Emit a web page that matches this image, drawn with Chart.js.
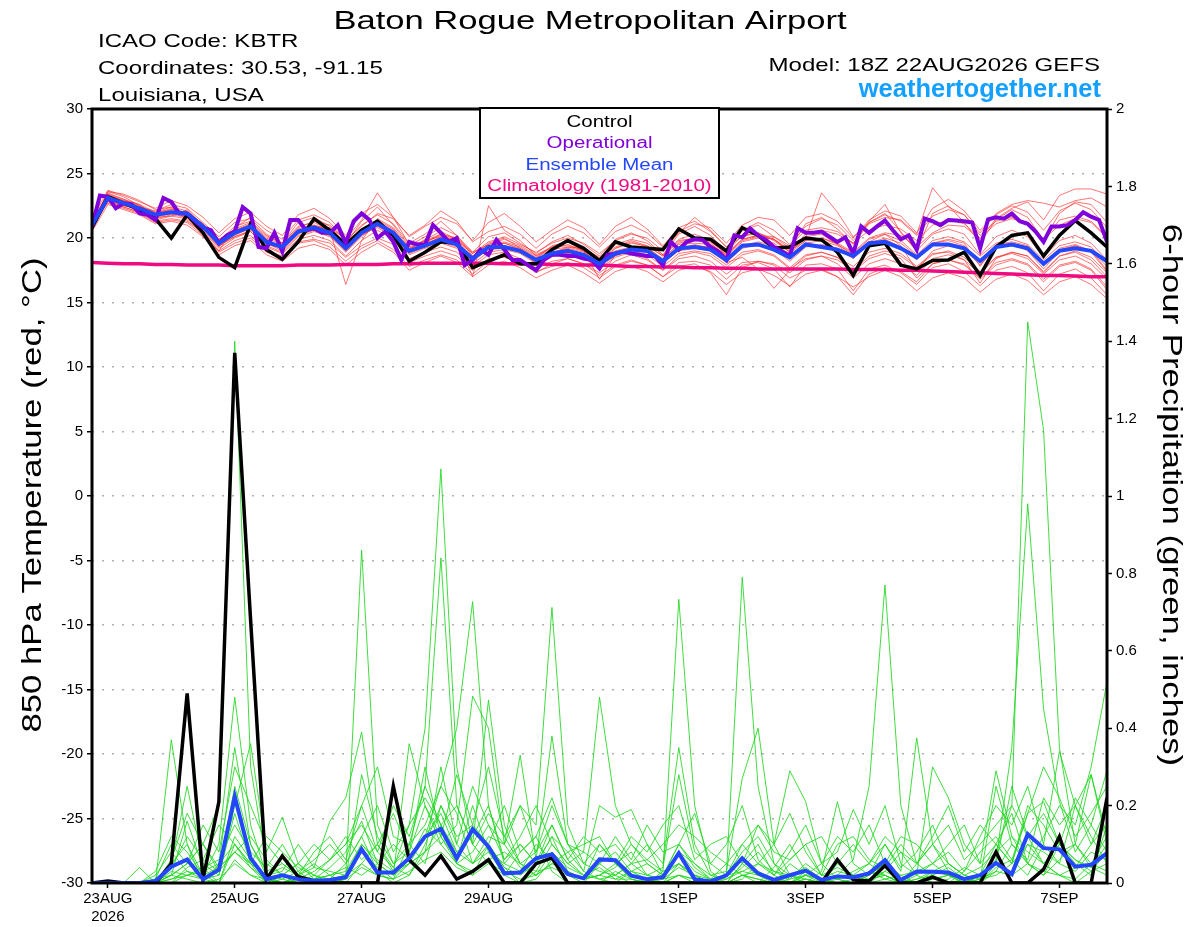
<!DOCTYPE html>
<html>
<head>
<meta charset="utf-8">
<title>Baton Rogue Metropolitan Airport</title>
<script src="https://cdn.jsdelivr.net/npm/chart.js@4.4.1/dist/chart.umd.min.js"></script>
<style>
  html, body { margin: 0; padding: 0; background: #fff; }
  canvas { display: block; }
</style>
</head>
<body>
<canvas id="meteogram" width="1200" height="927"></canvas>
<script>
// time axis: forecast hours from 18Z 22AUG2026, ensemble every 6h, operational every 3h
const ensStep = 6;
const opStep = 3;
const tickHours = [6, 54, 102, 150, 222, 270, 318, 366];
const tickLabels = [['23AUG', '2026'], '25AUG', '27AUG', '29AUG', '1SEP', '3SEP', '5SEP', '7SEP'];

// 850 hPa temperature (C)
const controlTemp = [
  20.8, 23.2, 22.7, 22.2, 21.5, 20.0, 21.8, 20.4, 18.5, 17.7, 21.1, 19.1, 18.35, 19.7, 21.5, 20.6,
  19.5, 20.6, 21.3, 20.2, 18.2, 18.9, 19.7, 19.6, 17.7, 18.2, 18.7, 18.0, 18.0, 19.1, 19.8, 19.2,
  18.25, 19.7, 19.3, 19.2, 19.1, 20.7, 20.0, 19.9, 19.0, 20.8, 20.2, 19.2, 19.3, 20.0, 19.85, 18.9,
  17.1, 19.4, 19.6, 17.9, 17.6, 18.25, 18.3, 18.9, 17.1, 19.3, 20.2, 20.4, 18.6, 20.2, 21.35, 20.4, 19.3
];
const operationalTemp = [
  20.9, 23.3, 23.2, 22.3, 22.7, 22.6, 21.9, 21.8, 21.4, 23.1, 22.8, 21.9, 21.9, 21.3, 20.8, 20.6,
  19.6, 20.2, 20.5, 22.4, 21.9, 19.3, 19.2, 20.4, 18.95, 21.4, 21.4, 20.6, 20.75, 20.4, 20.4, 21.0,
  19.6, 21.3, 21.9, 21.4, 20.0, 20.5, 19.7, 18.3, 19.7, 19.5, 19.5, 21.0, 20.4, 19.7, 20.0, 17.9,
  18.3, 19.1, 18.7, 19.85, 19.1, 18.3, 18.3, 17.9, 17.5, 18.3, 18.7, 18.7, 18.6, 18.6, 18.4, 18.3,
  17.65, 18.7, 18.8, 18.95, 18.8, 18.7, 18.6, 18.6, 17.9, 19.7, 19.1, 19.7, 19.9, 19.85, 19.3, 18.95,
  18.3, 20.2, 20.05, 20.75, 20.2, 19.85, 19.3, 18.95, 18.6, 20.75, 20.4, 20.4, 20.5, 20.1, 19.7, 20.05,
  18.8, 20.9, 20.4, 20.9, 21.35, 20.6, 19.9, 20.2, 19.1, 21.5, 21.3, 21.0, 21.4, 21.35, 21.3, 21.2,
  19.2, 21.45, 21.6, 21.5, 21.9, 21.3, 21.1, 20.5, 19.7, 20.9, 20.9, 21.0, 21.4, 22.0, 21.65, 21.4, 19.7
];
const meanTemp = [
  21.0, 23.1, 22.7, 22.3, 21.8, 22.0, 21.9, 20.9, 19.6, 20.4, 20.9, 19.7, 19.3, 20.5, 20.8, 20.4,
  19.2, 20.4, 21.1, 20.4, 19.0, 19.4, 19.9, 19.5, 18.4, 19.3, 19.3, 19.0, 18.3, 18.8, 19.0, 18.7,
  18.0, 18.8, 19.1, 19.0, 18.2, 19.2, 19.3, 19.1, 18.3, 19.4, 19.5, 19.1, 18.5, 19.5, 19.3, 19.1,
  18.6, 19.6, 19.7, 19.2, 18.5, 19.5, 19.5, 19.2, 18.2, 19.3, 19.5, 19.2, 18.0, 19.0, 19.2, 19.0, 18.2
];
const climoTemp = [
  18.1, 18.05, 18.0, 18.0, 17.95, 17.95, 17.9, 17.9, 17.9, 17.85, 17.85, 17.85, 17.85, 17.9, 17.9, 17.9,
  17.95, 17.95, 17.95, 18.0, 18.0, 18.05, 18.05, 18.05, 18.05, 18.05, 18.0, 18.0, 18.0, 17.95, 17.95, 17.9,
  17.9, 17.85, 17.8, 17.8, 17.75, 17.75, 17.7, 17.7, 17.65, 17.65, 17.6, 17.6, 17.6, 17.6, 17.6, 17.6,
  17.55, 17.55, 17.55, 17.5, 17.5, 17.45, 17.4, 17.35, 17.3, 17.25, 17.2, 17.15, 17.1, 17.1, 17.05, 17.0, 17.0
];

// ensemble members, 850 hPa temperature
const t01 = [21.2, 23.5, 23.0, 22.4, 22.1, 22.6, 22.3, 21.2, 20.1, 21.2, 21.5, 20.3, 19.6, 21.2, 21.6, 20.9,
  19.5, 21.3, 22.4, 21.0, 19.4, 20.1, 20.8, 20.2, 18.9, 20.1, 20.4, 19.6, 18.8, 19.7, 20.2, 19.5,
  18.6, 19.9, 20.4, 19.8, 18.7, 20.3, 20.9, 20.2, 18.9, 20.6, 21.0, 20.1, 19.2, 21.1, 21.6, 20.7,
  19.5, 21.3, 22.6, 20.4, 19.0, 21.9, 22.5, 21.2, 19.6, 21.4, 22.2, 21.6, 19.8, 21.9, 22.8, 22.6, 21.2];
const t02 = [20.7, 22.8, 22.4, 22.0, 21.3, 21.5, 21.3, 20.4, 19.0, 19.8, 20.2, 19.0, 18.6, 19.7, 19.9, 19.6,
  18.5, 19.4, 20.0, 19.5, 18.1, 18.6, 19.0, 18.6, 17.5, 18.4, 18.5, 18.1, 17.4, 17.8, 18.1, 17.7,
  16.9, 17.8, 18.2, 17.9, 17.0, 18.1, 18.2, 17.9, 16.8, 17.9, 18.1, 17.6, 16.2, 17.9, 18.0, 17.6,
  15.9, 17.6, 17.9, 17.3, 16.4, 17.7, 18.0, 17.4, 16.3, 17.5, 17.8, 17.3, 15.9, 17.2, 17.6, 16.9, 15.6];
const t03 = [21.4, 23.3, 22.9, 22.6, 21.6, 21.7, 22.2, 21.0, 19.8, 20.9, 21.3, 20.2, 19.6, 20.9, 21.2, 20.6,
  16.4, 19.8, 21.5, 20.8, 19.3, 19.8, 20.3, 20.0, 18.9, 19.5, 19.9, 19.4, 18.7, 19.3, 19.8, 19.2,
  18.5, 19.3, 19.8, 19.4, 18.6, 19.9, 20.3, 19.8, 18.9, 20.2, 20.4, 19.8, 18.9, 20.1, 20.3, 19.5,
  18.7, 19.7, 20.3, 19.4, 17.5, 19.0, 19.4, 19.1, 17.9, 19.2, 19.6, 19.0, 17.6, 19.0, 19.4, 18.9, 17.4];
const t04 = [20.9, 23.6, 23.2, 22.5, 21.9, 22.3, 21.7, 20.7, 19.4, 20.1, 20.6, 19.9, 19.1, 20.3, 20.9, 20.8,
  19.9, 21.4, 23.5, 21.6, 19.5, 19.7, 20.2, 19.8, 18.6, 19.6, 20.0, 19.2, 18.4, 19.4, 19.7, 19.0,
  17.9, 19.2, 19.7, 19.3, 18.3, 19.6, 19.9, 19.8, 18.7, 19.8, 20.1, 19.9, 18.9, 20.0, 23.5, 22.0,
  20.1, 21.2, 21.9, 20.5, 19.0, 20.3, 20.7, 20.3, 18.7, 20.1, 20.6, 20.1, 18.5, 19.8, 20.2, 19.6, 18.3];
const t05 = [21.1, 22.9, 22.6, 22.1, 21.5, 21.8, 21.6, 20.6, 19.3, 20.3, 20.7, 19.6, 19.0, 20.2, 20.6, 20.2,
  19.0, 20.2, 20.9, 20.2, 18.8, 19.3, 19.7, 19.3, 18.2, 19.1, 19.2, 18.9, 18.2, 18.9, 19.2, 18.9,
  18.1, 19.0, 19.3, 19.2, 18.4, 19.5, 19.6, 19.5, 18.7, 19.9, 20.2, 20.1, 19.4, 20.6, 20.8, 20.5,
  19.6, 21.1, 21.6, 21.4, 20.3, 23.9, 22.4, 21.8, 20.2, 21.3, 21.6, 21.2, 19.8, 21.4, 21.7, 21.3, 20.1];
const t06 = [20.6, 23.0, 22.5, 22.3, 21.7, 21.9, 22.0, 21.1, 19.9, 20.5, 21.0, 19.8, 19.4, 20.6, 20.9, 20.5,
  19.3, 20.6, 21.3, 20.6, 19.2, 19.6, 20.0, 19.6, 18.5, 19.4, 19.6, 19.2, 18.5, 19.1, 19.3, 19.0,
  18.2, 18.9, 19.2, 19.0, 18.2, 19.3, 19.4, 19.3, 18.5, 19.4, 19.7, 19.4, 18.8, 19.8, 20.0, 19.6,
  18.9, 20.0, 20.4, 20.2, 19.3, 20.4, 21.0, 20.9, 19.9, 21.5, 22.3, 22.8, 21.4, 23.3, 23.8, 23.8, 23.4];
const t07 = [21.0, 23.2, 22.8, 22.2, 21.9, 22.1, 21.8, 20.8, 19.5, 20.2, 20.8, 19.5, 19.2, 20.4, 20.7, 20.3,
  19.1, 20.4, 21.0, 20.3, 18.9, 19.5, 20.1, 19.7, 18.3, 19.2, 19.4, 19.1, 18.0, 18.6, 18.8, 18.5,
  17.6, 18.5, 18.9, 18.4, 17.5, 18.4, 18.6, 18.2, 17.2, 18.1, 18.2, 17.9, 16.9, 17.5, 17.6, 17.0,
  15.6, 17.2, 17.7, 17.4, 16.6, 18.0, 18.3, 17.9, 16.9, 18.1, 18.4, 18.0, 16.8, 17.9, 18.2, 17.6, 16.2];
const t08 = [21.3, 23.4, 22.8, 22.4, 22.0, 22.4, 22.1, 21.0, 19.7, 20.6, 21.1, 20.0, 19.5, 20.7, 21.0, 20.6,
  19.4, 20.7, 21.4, 20.7, 19.1, 19.9, 20.5, 19.9, 17.0, 22.5, 20.6, 19.8, 18.6, 19.2, 19.5, 19.0,
  16.8, 18.7, 19.3, 19.0, 18.0, 19.1, 19.5, 19.2, 18.1, 19.2, 19.5, 19.1, 18.2, 19.3, 19.5, 19.2,
  18.4, 19.5, 19.9, 19.3, 18.3, 19.6, 19.9, 19.6, 17.8, 19.5, 19.7, 19.4, 18.0, 19.2, 19.5, 19.0, 17.5];
const t09 = [20.8, 22.9, 22.4, 22.0, 21.4, 21.7, 21.5, 20.5, 19.2, 20.0, 20.5, 19.4, 18.9, 20.1, 20.5, 20.1,
  18.9, 20.1, 21.0, 20.3, 19.0, 19.6, 20.3, 19.9, 18.8, 19.7, 20.1, 19.5, 18.9, 19.6, 20.0, 19.6,
  18.8, 19.8, 20.3, 20.0, 19.0, 20.4, 21.6, 20.6, 19.3, 20.1, 20.4, 19.9, 19.0, 19.8, 20.0, 19.5,
  18.8, 19.9, 20.3, 19.8, 18.7, 19.8, 20.1, 19.7, 18.6, 19.6, 19.9, 19.5, 18.3, 19.4, 19.7, 19.3, 18.1];
const t10 = [21.1, 23.3, 22.9, 22.5, 21.8, 21.9, 21.7, 20.7, 19.4, 20.1, 20.5, 19.3, 18.8, 19.9, 20.2, 19.8,
  18.6, 19.8, 20.6, 19.9, 18.4, 18.9, 19.3, 18.9, 17.8, 18.7, 18.9, 18.4, 17.6, 18.2, 18.4, 18.0,
  17.1, 17.9, 18.3, 17.9, 17.0, 17.8, 18.0, 17.3, 15.6, 17.7, 18.2, 18.0, 17.3, 18.3, 18.6, 18.3,
  17.5, 18.6, 19.0, 18.6, 17.7, 18.7, 19.0, 18.5, 17.4, 18.5, 18.8, 18.4, 17.2, 18.3, 18.6, 18.0, 16.8];
const t11 = [20.9, 23.0, 22.6, 22.1, 21.6, 21.9, 21.8, 20.9, 19.7, 20.4, 20.8, 19.8, 19.3, 20.5, 20.8, 20.4,
  19.2, 20.5, 21.2, 20.5, 19.1, 19.5, 19.9, 19.4, 18.4, 19.2, 19.3, 19.0, 18.3, 18.8, 19.0, 18.7,
  18.0, 18.8, 19.2, 18.9, 18.1, 19.0, 19.2, 19.0, 18.1, 18.5, 17.6, 16.1, 17.5, 18.6, 18.9, 18.5,
  17.8, 18.9, 19.2, 18.8, 17.8, 18.8, 18.9, 18.3, 16.5, 18.4, 18.9, 18.6, 17.4, 18.6, 18.9, 18.3, 17.0];
const t12 = [21.2, 23.1, 22.7, 22.3, 21.7, 22.0, 21.9, 20.9, 19.6, 20.5, 20.9, 19.8, 19.3, 20.6, 21.0, 20.6,
  19.4, 20.6, 21.2, 20.5, 19.2, 19.8, 20.1, 19.8, 18.8, 19.5, 19.7, 19.3, 18.6, 19.3, 19.4, 19.1,
  18.3, 19.2, 19.6, 19.4, 18.6, 19.7, 20.0, 19.7, 18.8, 19.9, 20.2, 19.9, 19.1, 20.3, 20.6, 20.3,
  19.6, 20.6, 21.0, 20.7, 19.8, 21.0, 21.4, 21.1, 20.0, 21.1, 21.5, 21.1, 19.9, 21.0, 21.5, 21.2, 20.0];
const t13 = [20.7, 22.9, 22.5, 22.2, 21.8, 22.2, 22.0, 21.0, 19.8, 20.6, 21.0, 19.9, 19.3, 20.4, 20.6, 20.2,
  19.0, 20.3, 20.8, 20.1, 18.7, 19.2, 19.6, 19.2, 18.0, 18.9, 19.1, 18.8, 18.0, 18.6, 18.8, 18.5,
  17.8, 18.6, 19.0, 18.7, 17.8, 18.8, 19.0, 18.8, 17.9, 18.9, 19.1, 18.7, 17.7, 18.7, 18.9, 18.5,
  17.4, 18.4, 18.8, 18.4, 16.9, 18.0, 18.3, 18.0, 16.8, 17.9, 18.3, 17.9, 16.6, 17.8, 18.1, 17.5, 16.0];
const t14 = [21.0, 23.4, 23.0, 22.6, 22.0, 22.2, 22.0, 21.1, 19.9, 20.7, 21.2, 20.1, 19.6, 20.8, 21.3, 21.0,
  19.8, 21.0, 21.8, 21.1, 19.6, 20.3, 21.3, 20.2, 18.6, 19.4, 19.6, 19.1, 18.1, 18.8, 19.3, 19.2,
  18.4, 19.5, 19.9, 19.6, 18.7, 19.8, 20.0, 19.6, 18.6, 19.7, 20.0, 19.6, 18.6, 19.6, 19.8, 19.4,
  18.6, 19.6, 20.0, 19.6, 18.6, 19.6, 19.8, 19.4, 18.2, 19.3, 19.6, 19.2, 18.0, 19.1, 19.4, 19.0, 17.8];
const t15 = [21.5, 23.7, 23.3, 22.8, 22.3, 22.9, 22.5, 21.6, 20.4, 21.5, 22.0, 20.9, 20.2, 21.8, 22.3, 21.5,
  20.2, 21.9, 22.6, 21.6, 20.1, 20.9, 21.6, 21.1, 19.8, 21.2, 21.9, 20.9, 19.7, 20.6, 21.4, 20.8,
  19.5, 20.9, 21.6, 20.7, 19.4, 20.8, 21.3, 20.5, 19.3, 20.6, 21.2, 20.6, 19.5, 20.9, 21.5, 21.0,
  19.8, 21.2, 21.8, 21.3, 20.2, 21.7, 22.2, 21.8, 20.4, 21.9, 22.6, 22.9, 22.7, 22.4, 22.9, 23.1, 22.4];
const t16 = [20.5, 22.6, 22.2, 21.8, 21.1, 21.3, 21.0, 20.1, 18.7, 19.4, 19.8, 18.7, 18.2, 19.2, 19.5, 19.1,
  17.9, 18.9, 19.6, 18.9, 17.5, 18.1, 18.6, 18.1, 17.0, 17.9, 18.2, 17.7, 16.9, 17.5, 17.9, 17.3,
  16.5, 17.4, 17.8, 17.4, 16.6, 17.5, 17.8, 17.4, 16.4, 17.3, 17.6, 17.1, 16.3, 17.2, 17.5, 17.0,
  16.2, 17.0, 17.5, 17.0, 15.9, 16.9, 17.3, 16.9, 15.8, 16.8, 17.2, 16.7, 15.6, 16.6, 17.0, 16.4, 15.3];
const t17 = [21.0, 23.6, 23.4, 22.9, 22.2, 22.4, 21.4, 20.3, 19.0, 20.8, 21.6, 20.6, 19.9, 21.4, 21.8, 21.2,
  19.8, 20.9, 21.9, 21.5, 20.2, 21.0, 22.1, 21.3, 19.7, 20.5, 20.9, 20.3, 19.2, 20.3, 20.9, 20.4,
  19.3, 20.5, 21.0, 20.4, 19.3, 20.5, 21.1, 20.8, 19.6, 21.0, 21.6, 21.4, 20.2, 21.6, 21.9, 21.3,
  20.0, 21.4, 22.1, 21.7, 20.4, 22.3, 23.0, 22.1, 20.6, 21.8, 22.5, 22.0, 20.6, 22.1, 22.7, 22.2, 20.8];
const t18 = [21.3, 22.7, 22.3, 21.9, 21.2, 21.4, 21.2, 20.2, 18.9, 19.6, 20.0, 18.9, 18.5, 19.6, 19.8, 19.3,
  18.2, 19.2, 19.8, 19.1, 17.8, 18.3, 18.7, 18.3, 17.2, 18.2, 18.6, 18.2, 17.3, 18.0, 18.4, 18.0,
  17.3, 18.2, 18.7, 18.3, 17.5, 18.6, 18.9, 18.6, 17.7, 18.7, 19.0, 18.6, 17.6, 18.4, 18.6, 18.0,
  16.9, 18.0, 18.4, 18.0, 17.1, 18.4, 18.7, 18.3, 17.2, 18.5, 18.9, 18.6, 17.3, 18.6, 19.0, 18.5, 17.3];
const tempMembers = [t01, t02, t03, t04, t05, t06, t07, t08, t09, t10, t11, t12, t13, t14, t15, t16, t17, t18];

// 6-hour precipitation (inches)
const controlPrecip = [
  0, 0.005, 0, 0, 0, 0.05, 0.49, 0.01, 0.21, 1.37, 0.68, 0.01, 0.07, 0.016, 0.005, 0,
  0, 0, 0, 0.25, 0.06, 0.02, 0.07, 0.01, 0.03, 0.06, 0, 0, 0.05, 0.065, 0, 0,
  0, 0, 0, 0, 0, 0, 0, 0, 0, 0, 0, 0, 0, 0, 0, 0.06,
  0.008, 0.005, 0.045, 0, 0, 0.015, 0, 0, 0, 0.08, 0, 0, 0.035, 0.12, 0, 0, 0.22
];
const meanPrecip = [
  0, 0, 0, 0, 0.005, 0.042, 0.061, 0.01, 0.034, 0.223, 0.064, 0.01, 0.02, 0.01, 0.006, 0.008,
  0.015, 0.087, 0.027, 0.027, 0.064, 0.12, 0.14, 0.064, 0.139, 0.094, 0.025, 0.027, 0.064, 0.074, 0.023, 0.012,
  0.061, 0.059, 0.019, 0.01, 0.015, 0.077, 0.01, 0.004, 0.02, 0.064, 0.025, 0.008, 0.02, 0.032, 0.008, 0.017,
  0.015, 0.025, 0.059, 0.008, 0.03, 0.029, 0.027, 0.01, 0.02, 0.052, 0.023, 0.126, 0.09, 0.087, 0.042, 0.047, 0.077
];

// ensemble members, 6-hour precipitation
const p01 = [0, 0, 0, 0, 0, 0.02, 0.05, 0.1, 0.2, 1.40, 0.30, 0.05, 0.02, 0, 0, 0.01,
  0.05, 0.12, 0.03, 0, 0.02, 0.08, 0.15, 0.05, 0.02, 0.1, 0.04, 0, 0.01, 0.06, 0.02, 0,
  0, 0.03, 0.01, 0, 0, 0.02, 0, 0, 0, 0.05, 0.02, 0, 0, 0.03, 0.01, 0,
  0, 0.02, 0.05, 0.01, 0, 0.02, 0.04, 0.01, 0, 0.08, 0.2, 1.45, 1.17, 0.35, 0.1, 0.05, 0.12];
const p02 = [0, 0, 0, 0, 0.03, 0.12, 0.08, 0.02, 0.1, 0.48, 0.15, 0.02, 0, 0.01, 0.03, 0.06,
  0.1, 0.2, 0.08, 0.04, 0.15, 0.4, 1.07, 0.3, 0.1, 0.05, 0.02, 0.08, 0.12, 0.03, 0, 0,
  0.05, 0.02, 0, 0.01, 0, 0.05, 0.02, 0, 0, 0.02, 0, 0.04, 0.1, 0.03, 0, 0.02,
  0.06, 0.25, 0.77, 0.2, 0.05, 0.02, 0, 0.01, 0, 0.03, 0.1, 0.05, 0.02, 0.06, 0.1, 0.04, 0.02];
const p03 = [0, 0, 0, 0.04, 0, 0.37, 0.1, 0, 0.05, 0.35, 0.1, 0.03, 0.05, 0.02, 0, 0,
  0.02, 0.86, 0.15, 0.05, 0.08, 0.3, 0.12, 0.06, 0.2, 0.08, 0.02, 0, 0.03, 0.1, 0.05, 0.02,
  0.01, 0, 0.03, 0.05, 0.02, 0.1, 0.05, 0.01, 0.02, 0.79, 0.25, 0.05, 0, 0.02, 0.05, 0.01,
  0, 0.03, 0.02, 0, 0.05, 0.1, 0.03, 0, 0.02, 0.06, 0.35, 0.98, 0.45, 0.21, 0.08, 0.15, 0.29];
const p04 = [0, 0, 0, 0, 0, 0.05, 0.25, 0.05, 0.02, 0.2, 0.36, 0.08, 0.17, 0.05, 0.01, 0.02,
  0.03, 0.1, 0.05, 0.02, 0.05, 0.12, 0.25, 0.4, 0.727, 0.2, 0.05, 0.03, 0.1, 0.06, 0.02, 0.01,
  0.02, 0.05, 0.01, 0, 0.03, 0.733, 0.2, 0.03, 0, 0.05, 0.1, 0.02, 0, 0.01, 0, 0.05,
  0.02, 0, 0.03, 0.08, 0.02, 0, 0.01, 0.04, 0.02, 0.05, 0.02, 0.1, 0.05, 0.02, 0, 0.03, 0.05];
const p05 = [0, 0, 0, 0, 0.01, 0.02, 0.16, 0.04, 0, 0.1, 0.05, 0.02, 0.03, 0.1, 0.04, 0.16,
  0.22, 0.39, 0.1, 0.03, 0.05, 0.08, 0.3, 0.1, 0.05, 0.12, 0.1, 0.2, 0.15, 0.712, 0.15, 0.05,
  0.03, 0.02, 0.05, 0.1, 0.02, 0.05, 0.01, 0, 0.02, 0.03, 0.05, 0.1, 0.02, 0, 0.03, 0.21,
  0.05, 0.02, 0.1, 0.03, 0.375, 0.1, 0.05, 0.02, 0, 0.04, 0.06, 0.02, 0.1, 0.34, 0.2, 0.28, 0.1];
const p06 = [0, 0, 0, 0, 0, 0.02, 0.05, 0.1, 0.03, 0.08, 0.04, 0, 0.02, 0.05, 0.02, 0,
  0.01, 0.28, 0.12, 0.05, 0.1, 0.25, 0.84, 0.2, 0.1, 0.473, 0.15, 0.05, 0.08, 0.2, 0.1, 0.08,
  0.48, 0.2, 0.1, 0.05, 0.02, 0.08, 0.03, 0.01, 0.05, 0.02, 0.01, 0, 0.05, 0.02, 0, 0.01,
  0.03, 0.05, 0.02, 0, 0.02, 0.05, 0.1, 0.15, 0.05, 0.1, 0.18, 0.05, 0.12, 0.2, 0.15, 0.3, 0.52];
const p07 = [0, 0, 0, 0, 0, 0.05, 0.1, 0.02, 0, 0.12, 0.06, 0.01, 0, 0.02, 0.01, 0.04,
  0.08, 0.16, 0.05, 0.02, 0.36, 0.2, 0.1, 0.15, 0.483, 0.4, 0.1, 0.33, 0.06, 0.38, 0.1, 0.03,
  0.2, 0.17, 0.19, 0.1, 0.05, 0.35, 0.1, 0.02, 0.03, 0.27, 0.4, 0.1, 0.29, 0.21, 0.05, 0.08,
  0.19, 0.1, 0.2, 0.05, 0.02, 0.3, 0.22, 0.1, 0.05, 0.29, 0.12, 0.05, 0.02, 0.1, 0.06, 0.03, 0.08];
const p08 = [0, 0, 0, 0, 0, 0.01, 0.02, 0.04, 0.06, 0.15, 0.08, 0.04, 0.1, 0.03, 0.06, 0.1,
  0.05, 0.12, 0.2, 0.08, 0.15, 0.22, 0.15, 0.08, 0.12, 0.2, 0.06, 0.1, 0.05, 0.12, 0.08, 0.1,
  0.12, 0.05, 0.08, 0.02, 0.04, 0.28, 0.08, 0.05, 0.02, 0.08, 0.12, 0.05, 0.02, 0.04, 0.01, 0.03,
  0.02, 0.05, 0.1, 0.04, 0.08, 0.15, 0.05, 0.02, 0.01, 0.25, 0.1, 0.06, 0.22, 0.15, 0.2, 0.12, 0.05];
const p09 = [0, 0, 0, 0, 0, 0, 0.04, 0.06, 0.03, 0.25, 0.1, 0.02, 0.04, 0.02, 0.05, 0.02,
  0, 0.05, 0.1, 0.04, 0.02, 0.1, 0.2, 0.12, 0.15, 0.3, 0.12, 0.05, 0.02, 0.08, 0.04, 0.02,
  0.05, 0.08, 0.03, 0.01, 0.02, 0.1, 0.04, 0.01, 0.02, 0.1, 0.05, 0.02, 0.06, 0.1, 0.02, 0.01,
  0, 0.02, 0.05, 0.02, 0.03, 0.05, 0.02, 0, 0.02, 0.1, 0.05, 0.2, 0.15, 0.08, 0.1, 0.28, 0.12];
const p10 = [0, 0, 0, 0, 0.02, 0.08, 0.03, 0.01, 0, 0.06, 0.02, 0.01, 0, 0, 0.02, 0.01,
  0.02, 0.08, 0.04, 0.01, 0.1, 0.15, 0.25, 0.18, 0.05, 0.1, 0.04, 0.02, 0.05, 0.12, 0.03, 0.01,
  0.02, 0.04, 0.1, 0.06, 0.03, 0.05, 0.02, 0, 0, 0.01, 0.05, 0.03, 0.02, 0.01, 0, 0,
  0.01, 0.03, 0.01, 0, 0.01, 0.02, 0, 0.03, 0.08, 0.12, 0.06, 0.18, 0.21, 0.1, 0.05, 0.02, 0.15];
const p11 = [0, 0, 0, 0, 0, 0.03, 0.02, 0.01, 0.02, 0.18, 0.05, 0, 0.01, 0.03, 0, 0,
  0.01, 0.04, 0.02, 0.01, 0.05, 0.08, 0.12, 0.05, 0.08, 0.15, 0.1, 0.04, 0.02, 0.05, 0.08, 0.03,
  0.01, 0.02, 0.05, 0.02, 0.01, 0.08, 0.05, 0.02, 0.01, 0.04, 0.08, 0.03, 0.01, 0.05, 0.02, 0.04,
  0.02, 0.01, 0.03, 0.01, 0, 0.03, 0.05, 0.02, 0.04, 0.08, 0.12, 0.08, 0.05, 0.02, 0.04, 0.1, 0.2];
const p12 = [0, 0, 0, 0, 0, 0, 0.02, 0.03, 0.05, 0.1, 0.04, 0.01, 0, 0.02, 0.04, 0.03,
  0.02, 0.1, 0.06, 0.03, 0.06, 0.12, 0.18, 0.08, 0.05, 0.08, 0.05, 0.1, 0.05, 0.15, 0.06, 0.02,
  0.04, 0.01, 0.03, 0.02, 0.01, 0.02, 0.01, 0, 0, 0.02, 0.03, 0.01, 0, 0.02, 0.01, 0,
  0, 0.01, 0.02, 0, 0.01, 0.03, 0.02, 0.01, 0, 0.05, 0.25, 0.12, 0.05, 0.1, 0.06, 0.04, 0.1];
const p13 = [0, 0, 0, 0, 0, 0.01, 0.03, 0.02, 0.04, 0.08, 0.05, 0.02, 0.01, 0, 0.01, 0.02,
  0.04, 0.02, 0.05, 0.1, 0.06, 0.14, 0.1, 0.05, 0.03, 0.06, 0.08, 0.05, 0.03, 0.04, 0.02, 0.01,
  0.1, 0.05, 0.02, 0.01, 0, 0.02, 0.01, 0, 0.01, 0.03, 0.02, 0.01, 0, 0.01, 0, 0.02,
  0.01, 0, 0.01, 0.02, 0, 0.01, 0.02, 0, 0.01, 0.02, 0.05, 0.1, 0.08, 0.05, 0.03, 0.08, 0.06];
const p14 = [0, 0, 0, 0, 0, 0.02, 0.01, 0, 0.01, 0.05, 0.02, 0, 0, 0.01, 0, 0.01,
  0.02, 0.05, 0.02, 0.01, 0.03, 0.06, 0.08, 0.04, 0.02, 0.05, 0.03, 0.01, 0.02, 0.05, 0.03, 0.01,
  0.02, 0.01, 0.01, 0, 0.01, 0.04, 0.02, 0.01, 0, 0.02, 0.01, 0, 0.01, 0.02, 0.01, 0,
  0, 0.01, 0.02, 0, 0, 0.01, 0.02, 0, 0.01, 0.03, 0.02, 0.05, 0.03, 0.02, 0.01, 0.05, 0.03];
const p15 = [0, 0, 0, 0, 0, 0.06, 0.18, 0.1, 0.04, 0.08, 0.12, 0.06, 0.02, 0.05, 0.1, 0.06,
  0.12, 0.06, 0.1, 0.18, 0.08, 0.2, 0.12, 0.28, 0.15, 0.1, 0.2, 0.08, 0.12, 0.22, 0.1, 0.05,
  0.1, 0.05, 0.12, 0.08, 0.15, 0.2, 0.06, 0.1, 0.12, 0.05, 0.15, 0.1, 0.18, 0.08, 0.02, 0.1,
  0.12, 0.06, 0.04, 0.1, 0.05, 0.12, 0.2, 0.08, 0.15, 0.1, 0.05, 0.18, 0.3, 0.22, 0.12, 0.18, 0.25];
const p16 = [0, 0, 0, 0, 0.01, 0.1, 0.05, 0.15, 0.08, 0.3, 0.2, 0.1, 0.05, 0.02, 0.08, 0.12,
  0.06, 0.2, 0.3, 0.12, 0.1, 0.05, 0.2, 0.1, 0.25, 0.15, 0.06, 0.12, 0.2, 0.1, 0.05, 0.08,
  0.05, 0.12, 0.06, 0.15, 0.08, 0.1, 0.18, 0.05, 0.1, 0.2, 0.06, 0.02, 0.08, 0.15, 0.05, 0.12,
  0.08, 0.15, 0.05, 0.12, 0.1, 0.05, 0.08, 0.03, 0.12, 0.2, 0.15, 0.25, 0.1, 0.05, 0.2, 0.1, 0.15];
const p17 = [0, 0, 0, 0, 0, 0.04, 0.12, 0.06, 0.15, 0.1, 0.05, 0.12, 0.08, 0.04, 0.02, 0.06,
  0.1, 0.15, 0.08, 0.2, 0.12, 0.25, 0.15, 0.2, 0.1, 0.18, 0.12, 0.2, 0.08, 0.15, 0.06, 0.12,
  0.08, 0.1, 0.05, 0.06, 0.1, 0.15, 0.12, 0.08, 0.05, 0.1, 0.15, 0.08, 0.06, 0.1, 0.12, 0.05,
  0.1, 0.05, 0.12, 0.08, 0.05, 0.1, 0.15, 0.06, 0.1, 0.15, 0.2, 0.12, 0.18, 0.1, 0.22, 0.15, 0.08];
const precipMembers = [p01, p02, p03, p04, p05, p06, p07, p08, p09, p10, p11, p12, p13, p14, p15, p16, p17];

const FONT = "'Liberation Sans', Arial, sans-serif";
const colControl = '#000000';
const colOper = 'rgb(128,0,220)';
const colMean = 'rgb(35,70,255)';
const colClimo = 'rgb(240,10,130)';

const toPoints = (vals, step) => vals.map((v, k) => ({ x: k * step, y: v }));

function line(vals, step, axis, color, width, order) {
  return {
    data: toPoints(vals, step),
    yAxisID: axis,
    borderColor: color,
    borderWidth: width,
    pointRadius: 0,
    tension: 0,
    fill: false,
    order: order
  };
}

const datasets = [];
datasets.push(line(meanTemp, ensStep, 'yT', colMean, 4, 1));
datasets.push(line(meanPrecip, ensStep, 'yP', colMean, 4, 2));
datasets.push(line(operationalTemp, opStep, 'yT', colOper, 4, 3));
datasets.push(line(controlTemp, ensStep, 'yT', colControl, 3.5, 4));
datasets.push(line(controlPrecip, ensStep, 'yP', colControl, 3.5, 5));
datasets.push(line(climoTemp, ensStep, 'yT', colClimo, 3.5, 6));
tempMembers.forEach(m => datasets.push(line(m, ensStep, 'yT', 'rgba(255,45,45,0.65)', 1, 10)));
precipMembers.forEach(m => datasets.push(line(m, ensStep, 'yP', 'rgba(30,215,30,0.85)', 1, 11)));

// text helper, the original lettering is wider than Liberation Sans
function drawText(ctx, text, x, y, font, color, align, sx, rot) {
  ctx.save();
  ctx.translate(x, y);
  if (rot) ctx.rotate(rot);
  ctx.scale(sx || 1, 1);
  ctx.font = font;
  ctx.fillStyle = color;
  ctx.textAlign = align || 'left';
  ctx.textBaseline = 'alphabetic';
  ctx.fillText(text, 0, 0);
  ctx.restore();
}

const decor = {
  id: 'decor',
  afterDraw(chart) {
    const ctx = chart.ctx;
    const a = chart.chartArea;

    // frame
    ctx.save();
    ctx.strokeStyle = '#000';
    ctx.lineWidth = 3;
    ctx.strokeRect(a.left, a.top, a.right - a.left, a.bottom - a.top);
    ctx.restore();

    // header
    drawText(ctx, 'Baton Rogue Metropolitan Airport', 590, 28.5, '26px ' + FONT, '#000', 'center', 1.33);
    drawText(ctx, 'ICAO Code: KBTR', 98, 46.5, '18.5px ' + FONT, '#000', 'left', 1.3);
    drawText(ctx, 'Coordinates: 30.53, -91.15', 98, 73.5, '18.5px ' + FONT, '#000', 'left', 1.3);
    drawText(ctx, 'Louisiana, USA', 98, 100.5, '18.5px ' + FONT, '#000', 'left', 1.3);
    drawText(ctx, 'Model: 18Z 22AUG2026 GEFS', 1100, 71, '18.5px ' + FONT, '#000', 'right', 1.3);
    drawText(ctx, 'weathertogether.net', 1101, 97, 'bold 25px ' + FONT, '#14a0ff', 'right', 1.02);

    // legend box
    ctx.save();
    ctx.fillStyle = '#fff';
    ctx.fillRect(480, 108, 239, 90);
    ctx.strokeStyle = '#000';
    ctx.lineWidth = 2;
    ctx.strokeRect(480, 108, 239, 90);
    ctx.restore();
    const lf = '16px ' + FONT;
    drawText(ctx, 'Control', 599.5, 126.7, lf, colControl, 'center', 1.28);
    drawText(ctx, 'Operational', 599.5, 148.2, lf, colOper, 'center', 1.28);
    drawText(ctx, 'Ensemble Mean', 599.5, 169.5, lf, colMean, 'center', 1.28);
    drawText(ctx, 'Climatology (1981-2010)', 599.5, 190.7, lf, colClimo, 'center', 1.28);

    // axis titles
    drawText(ctx, '850 hPa Temperature (red, \u00B0C)', 41, 495, '28px ' + FONT, '#000', 'center', 1.24, -Math.PI / 2);
    drawText(ctx, '6-hour Precipitation (green, inches)', 1163, 495, '28px ' + FONT, '#000', 'center', 1.24, Math.PI / 2);
  }
};

const tickFont = { family: FONT, size: 15 };

new Chart(document.getElementById('meteogram'), {
  type: 'line',
  data: { datasets: datasets },
  plugins: [decor],
  options: {
    responsive: false,
    animation: false,
    devicePixelRatio: 1,
    layout: { padding: { top: 109, left: 0, right: 0, bottom: 0 } },
    plugins: { legend: { display: false }, tooltip: { enabled: false }, title: { display: false } },
    scales: {
      x: {
        type: 'linear', min: 0, max: 384,
        afterBuildTicks: s => { s.ticks = tickHours.map(v => ({ value: v })); },
        ticks: {
          callback: v => tickLabels[tickHours.indexOf(v)],
          font: tickFont, color: '#000', maxRotation: 0, autoSkip: false, padding: 2
        },
        grid: { drawOnChartArea: false, tickLength: 5, tickColor: '#000', tickWidth: 1.5 },
        border: { display: false },
        afterFit: s => { s.height = 44; }
      },
      yT: {
        position: 'left', min: -30, max: 30,
        ticks: { stepSize: 5, font: tickFont, color: '#000', padding: 4 },
        grid: {
          color: c => (c.tick && Math.abs(c.tick.value) === 30) ? 'rgba(0,0,0,0)' : '#b0b0b0',
          lineWidth: 1.5, tickColor: '#000', tickLength: 5, tickWidth: 1.5
        },
        border: { display: false, dash: [2, 8] },
        afterFit: s => { s.width = 92; }
      },
      yP: {
        position: 'right', min: 0, max: 2,
        ticks: {
          stepSize: 0.2, font: tickFont, color: '#000', padding: 4,
          callback: v => String(Number(v.toFixed(1)))
        },
        grid: { drawOnChartArea: false, tickColor: '#000', tickLength: 5, tickWidth: 1.5 },
        border: { display: false },
        afterFit: s => { s.width = 93; }
      }
    }
  }
});
</script>
</body>
</html>
